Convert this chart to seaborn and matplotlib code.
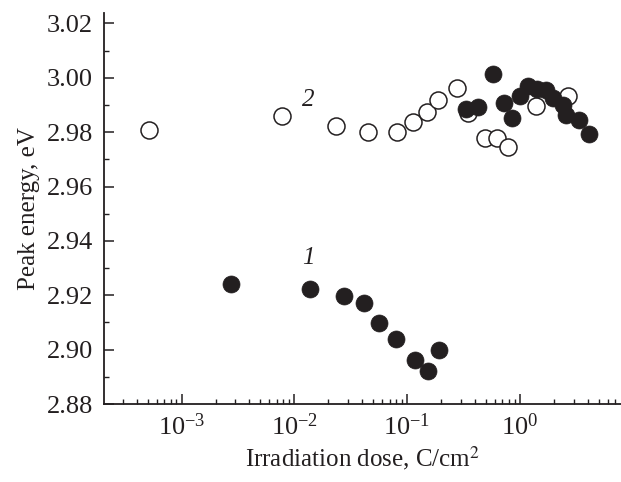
import numpy as np
import pandas as pd
import matplotlib
matplotlib.use("Agg")
import matplotlib.pyplot as plt
import seaborn as sns
from matplotlib.ticker import LogLocator, MultipleLocator, FormatStrFormatter

# Series 1 (filled circles)
dose_1 = [0.00277, 0.0139, 0.0274, 0.0413, 0.0564, 0.0794, 0.117, 0.153, 0.192,
          0.332, 0.427, 0.573, 0.721, 0.861, 1.01, 1.19, 1.41, 1.72, 1.97, 2.42, 2.59, 3.34, 4.12]
energy_1 = [2.9241, 2.9222, 2.9197, 2.9170, 2.9099, 2.9038, 2.8961, 2.8922, 2.8998,
            2.9885, 2.9891, 3.0015, 2.9907, 2.9852, 2.9934, 2.9971, 2.9959, 2.9954, 2.9926, 2.9901, 2.9864, 2.9843, 2.9794]

# Series 2 (open circles)
dose_2 = [0.000514, 0.00784, 0.0233, 0.0451, 0.0822, 0.113, 0.150, 0.190, 0.280,
          0.344, 0.489, 0.634, 0.788, 1.39, 2.65]
energy_2 = [2.9808, 2.9861, 2.9823, 2.9800, 2.9800, 2.9839, 2.9876, 2.9919, 2.9962,
            2.9870, 2.9778, 2.9778, 2.9747, 2.9898, 2.9933]

y_ticks = [2.88, 2.90, 2.92, 2.94, 2.96, 2.98, 3.00, 3.02]
x_label = "Irradiation dose, C/cm$^2$"
y_label = "Peak energy, eV"
curve_labels = ["1", "2"]
curve_label_pos = [(0.0134, 2.9336), (0.01315, 2.9919)]

df1 = pd.DataFrame({"dose": dose_1, "energy": energy_1})
df2 = pd.DataFrame({"dose": dose_2, "energy": energy_2})

sns.set_style("ticks")
plt.rcParams["font.family"] = ["Liberation Serif", "DejaVu Serif"]
plt.rcParams["mathtext.fontset"] = "stix"

fig = plt.figure(figsize=(6.21, 4.82), dpi=100)
ax = fig.add_axes([0.1675, 0.1618, 0.8325, 0.811])

dark = "#231f20"
sns.scatterplot(data=df2, x="dose", y="energy", ax=ax, s=150, marker="o",
                facecolor="white", edgecolor=dark, linewidth=1.1, zorder=3)
sns.scatterplot(data=df1, x="dose", y="energy", ax=ax, s=150, marker="o",
                color=dark, edgecolor=dark, linewidth=0.5, zorder=4)

ax.set_xscale("log")
ax.set_xlim(2.05e-4, 7.9)
ax.set_ylim(2.88, 3.0238)
ax.set_yticks(y_ticks)
ax.yaxis.set_major_formatter(FormatStrFormatter("%.2f"))
ax.yaxis.set_minor_locator(MultipleLocator(0.01))
ax.xaxis.set_major_locator(LogLocator(base=10, numticks=20))
ax.xaxis.set_minor_locator(LogLocator(base=10, subs=np.arange(2, 10), numticks=20))

sns.despine(ax=ax)
for sp in ["left", "bottom"]:
    ax.spines[sp].set_linewidth(1.3)
    ax.spines[sp].set_color(dark)

ax.tick_params(axis="both", which="major", direction="in", length=7, width=1.1,
               colors=dark, labelsize=19, labelcolor=dark)
ax.tick_params(axis="both", which="minor", direction="in", length=3.5, width=1.0,
               colors=dark)
ax.tick_params(axis="x", which="major", pad=7)
ax.tick_params(axis="y", which="major", pad=8)

ax.set_xlabel(x_label, fontsize=18, color=dark, labelpad=3)
ax.set_ylabel(y_label, fontsize=18, color=dark, labelpad=5)

for lab, (lx, ly) in zip(curve_labels, curve_label_pos):
    ax.text(lx, ly, lab, fontsize=18, style="italic", ha="center", va="center", color=dark)

fig.savefig("out.png", dpi=100)
